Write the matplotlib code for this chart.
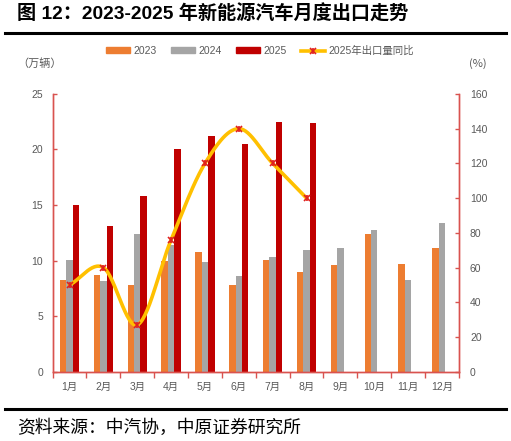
import matplotlib
matplotlib.use("Agg")
import matplotlib.pyplot as plt
import numpy as np
from matplotlib.lines import Line2D
from matplotlib.patches import Patch
from matplotlib.legend_handler import HandlerTuple

plt.rcParams['font.family'] = ['Liberation Sans', 'Noto Sans CJK SC', 'DejaVu Sans']

months = ['1月', '2月', '3月', '4月', '5月', '6月', '7月', '8月', '9月', '10月', '11月', '12月']
v2023 = [8.3, 8.7, 7.8, 10.0, 10.8, 7.8, 10.1, 9.0, 9.6, 12.4, 9.7, 11.1]
v2024 = [10.1, 8.2, 12.4, 11.4, 9.9, 8.6, 10.3, 11.0, 11.1, 12.8, 8.3, 13.4]
v2025 = [15.0, 13.1, 15.8, 20.0, 21.2, 20.5, 22.5, 22.4]
yoy2025 = [50, 60, 27, 76, 120, 140, 120, 100]

c23, c24, c25 = '#ED7D31', '#A5A5A5', '#C00000'
cline = '#FFC000'
cmark = '#E02020'
cax = '#D9534F'
ctxt = '#595959'


def smooth(xs, ys, n=30):
    # catmull-rom curve, like the smoothed line in Excel
    xs = np.asarray(xs, float)
    ys = np.asarray(ys, float)
    px = np.concatenate([[2 * xs[0] - xs[1]], xs, [2 * xs[-1] - xs[-2]]])
    py = np.concatenate([[2 * ys[0] - ys[1]], ys, [2 * ys[-1] - ys[-2]]])
    ox, oy = [], []
    for i in range(1, len(px) - 2):
        t = np.linspace(0, 1, n, endpoint=False)
        for p, o in ((px, ox), (py, oy)):
            p0, p1, p2, p3 = p[i - 1], p[i], p[i + 1], p[i + 2]
            o.extend(0.5 * ((2 * p1) + (-p0 + p2) * t + (2 * p0 - 5 * p1 + 4 * p2 - p3) * t ** 2
                            + (-p0 + 3 * p1 - 3 * p2 + p3) * t ** 3))
    ox.append(xs[-1])
    oy.append(ys[-1])
    return np.array(ox), np.array(oy)


fig = plt.figure(figsize=(5.11, 4.41), dpi=100)
ax = fig.add_axes([0.103, 0.157, 0.795, 0.630])
ax2 = ax.twinx()

x = np.arange(12)
w = 0.19
ax.bar(x - w, v2023, w, color=c23, zorder=2)
ax.bar(x, v2024, w, color=c24, zorder=2)
ax.bar(np.arange(len(v2025)) + w, v2025, w, color=c25, zorder=2)

sx, sy = smooth(np.arange(len(yoy2025)), yoy2025)
ax2.plot(sx, sy, color=cline, lw=2.6, zorder=3)
mx = np.arange(len(yoy2025))
ax2.plot(mx, yoy2025, ls='none', marker='x', color=cmark, ms=4.5, mew=1.2, zorder=4)
ax2.plot(mx, yoy2025, ls='none', marker='|', color=cmark, ms=5, mew=1.2, zorder=4)

ax.set_xlim(-0.5, 11.5)
ax.set_ylim(0, 25)
ax2.set_ylim(0, 160)
ax.set_yticks(np.arange(0, 26, 5))
ax2.set_yticks(np.arange(0, 161, 20))
ax.set_xticks(x)
ax.set_xticklabels(months)
ax.set_xticks(np.arange(-0.5, 12, 1), minor=True)

for a in (ax, ax2):
    a.spines['top'].set_visible(False)
    for s in ('left', 'right', 'bottom'):
        a.spines[s].set_color(cax)
        a.spines[s].set_linewidth(1.0)
    a.tick_params(axis='y', colors=cax, labelcolor=ctxt, labelsize=7.5, length=3, width=1,
                  direction='in')
ax.tick_params(axis='x', which='major', length=0, labelcolor=ctxt, labelsize=7.5, pad=7)
ax.tick_params(axis='x', which='minor', length=4, color=cax, width=1)
ax.tick_params(axis='y', pad=7)
ax2.tick_params(axis='y', pad=8)

ax.text(-0.087, 1.11, '（万辆）', transform=ax.transAxes, fontsize=8, color=ctxt,
        family=['Noto Sans CJK SC'], ha='left', va='center')
ax2.text(1.025, 1.11, '(%)', transform=ax.transAxes, fontsize=8, color=ctxt,
         family=['Noto Sans CJK SC'], ha='left', va='center')

lh = (Line2D([], [], color=cline, lw=2.6),
      Line2D([], [], ls='none', marker='x', color=cmark, ms=4.5, mew=1.2),
      Line2D([], [], ls='none', marker='|', color=cmark, ms=5, mew=1.2))
handles = [Patch(color=c23), Patch(color=c24), Patch(color=c25), lh]
labels = ['2023', '2024', '2025', '2025年出口量同比']
leg = fig.legend(handles, labels, ncol=4, loc='center', bbox_to_anchor=(0.509, 0.885),
                 frameon=False, fontsize=7.5, handlelength=2.3, handleheight=0.45,
                 columnspacing=1.4, handletextpad=0.3,
                 handler_map={tuple: HandlerTuple(ndivide=1)})
for t in leg.get_texts():
    t.set_color(ctxt)

fig.text(0.033, 0.968, '图 12：2023-2025 年新能源汽车月度出口走势', fontsize=13.8, weight='bold',
         family=['Liberation Sans', 'Noto Sans CJK SC'], va='center', ha='left')
fig.add_artist(Line2D([0.01, 0.99], [0.925, 0.925], color='black', lw=2.2))
fig.add_artist(Line2D([0.01, 0.99], [0.073, 0.073], color='black', lw=2.2))
fig.text(0.033, 0.030, '资料来源：中汽协，中原证券研究所', fontsize=12.8,
         family=['Noto Sans CJK SC'], va='center', ha='left')

fig.savefig('out.png', dpi=100)
